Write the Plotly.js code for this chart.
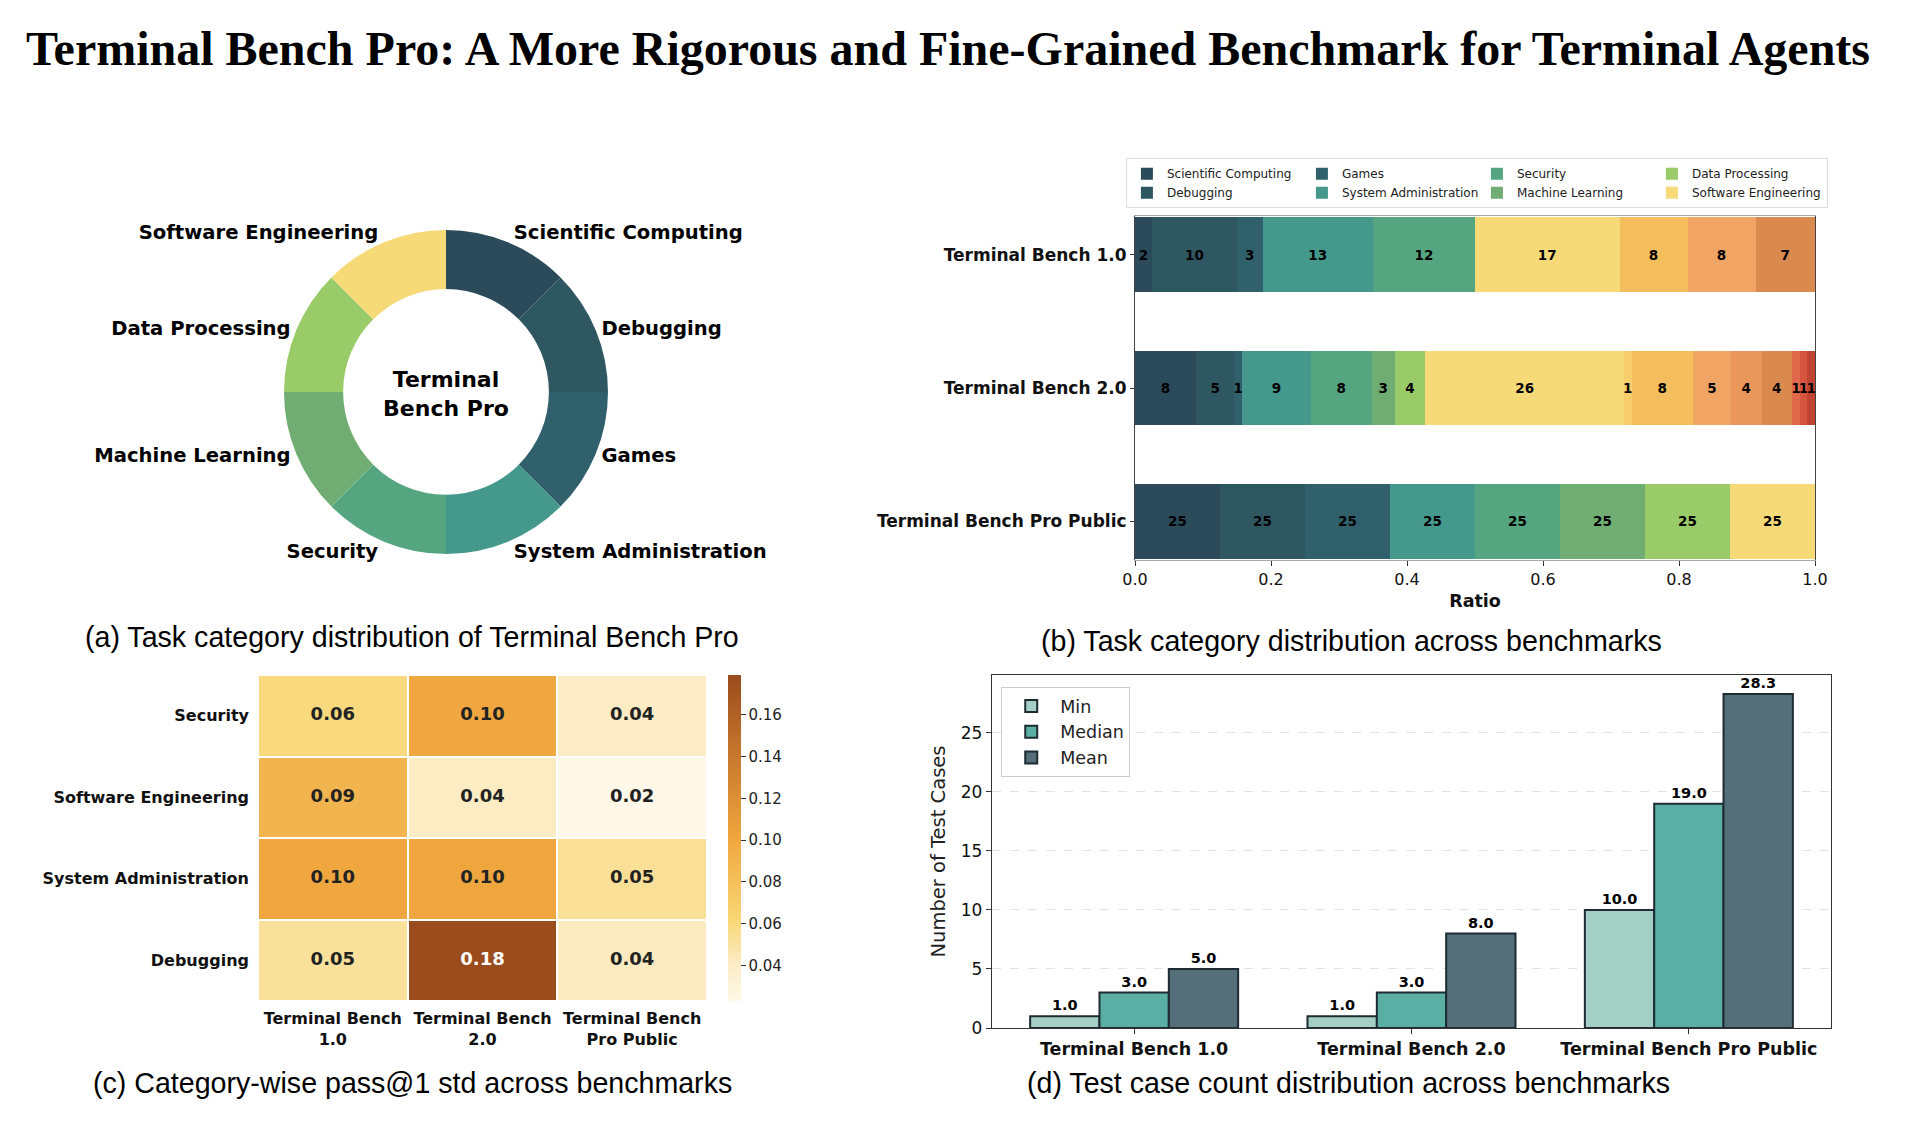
<!DOCTYPE html>
<html><head><meta charset="utf-8">
<script src="https://cdn.plot.ly/plotly-3.0.1.min.js"></script>
<style>
body{margin:0;width:1918px;height:1136px;background:#fff;position:relative;overflow:hidden}
.p{position:absolute}
#title{position:absolute;left:0;top:22px;width:1896px;text-align:center;font-family:"Liberation Serif",serif;font-weight:bold;font-size:48px;line-height:54px;color:#000;white-space:nowrap}
</style></head><body>
<div id="title">Terminal Bench Pro: A More Rigorous and Fine-Grained Benchmark for Terminal Agents</div>
<div id="pa" class="p" style="left:0;top:100px;width:850px;height:560px"></div>
<div id="pb" class="p" style="left:850px;top:150px;width:1065px;height:520px"></div>
<div id="pc" class="p" style="left:0;top:660px;width:900px;height:476px"></div>
<div id="pd" class="p" style="left:880px;top:660px;width:1038px;height:476px"></div>
<script>
// ---------------- data ----------------
const categories = ["Scientific Computing","Debugging","Games","System Administration","Security","Machine Learning","Data Processing","Software Engineering"];
const extraCategories = ["Other A","Other B","Other C","Other D","Other E","Other F","Other G","Other H"];
const benchmarks = ["Terminal Bench 1.0","Terminal Bench 2.0","Terminal Bench Pro Public"];
// task counts per category (8 named + 8 unlabeled extra categories)
const tb1Counts = [2,10,3,13,12,0,0,17, 0,8,8,0,7,0,0,0];
const tb2Counts = [8,5,1,9,8,3,4,26, 1,8,5,4,4,1,1,1];
const proCounts = [25,25,25,25,25,25,25,25, 0,0,0,0,0,0,0,0];
const proDonutValues = [25,25,25,25,25,25,25,25];

const heatCategories = ["Security","Software Engineering","System Administration","Debugging"];
const heatBenchLabels = ["Terminal Bench<br>1.0","Terminal Bench<br>2.0","Terminal Bench<br>Pro Public"];
const heatStd = [
  [0.060, 0.100, 0.040],
  [0.090, 0.041, 0.023],
  [0.100, 0.101, 0.053],
  [0.052, 0.179, 0.042]
];

const testStats = ["Min","Median","Mean"];
const testMin = [1.0, 1.0, 10.0];
const testMedian = [3.0, 3.0, 19.0];
const testMean = [5.0, 8.0, 28.3];

// ---------------- styles ----------------
const catColors = ["#2c4b5a","#2f5762","#30606b","#44998c","#55a680","#6fad72","#99cb68","#f7da78"];
const extraColors = ["#f7ce6b","#f4be5c","#f1a565","#e9975a","#da8a4f","#e0684b","#d6553f","#c14332"];
const statColors = ["#a3cfc5","#5aaea3","#546f7a"];
const SANS = "DejaVu Sans";
const CAP = {family:"Liberation Sans", size:28.6, color:"#000"};
const cfg = {displayModeBar:false, staticPlot:true};

// ---------------- (a) donut ----------------
// div is 850 wide: pie centre at x=446, radius 162
Plotly.newPlot("pa", [{
  type:"pie", labels:categories, values:proDonutValues, hole:0.635, sort:false,
  direction:"clockwise", rotation:0,
  marker:{colors:catColors, line:{width:0}},
  textinfo:"label", textposition:"outside",
  textfont:{family:SANS, size:19.6, color:"#000", weight:"bold"},
  outsidetextfont:{family:SANS, size:19.6, color:"#000", weight:"bold"},
  title:{text:"Terminal<br>Bench Pro", position:"middle center", font:{family:SANS, size:22, color:"#000", weight:"bold"}},
  domain:{x:[0.33412,0.71529], y:[0.1893,0.7679]},
  showlegend:false
}], {
  width:850, height:560, margin:{l:0,r:0,t:0,b:0}, paper_bgcolor:"rgba(0,0,0,0)",
  annotations:[{text:"(a) Task category distribution of Terminal Bench Pro", xref:"paper", yref:"paper", x:0.4847, y:0.041, xanchor:"center", yanchor:"middle", showarrow:false, font:CAP}]
}, cfg);

// ---------------- (b) stacked ratio bars ----------------
const allCats = categories.concat(extraCategories);
const allColors = catColors.concat(extraColors);
const tot = a => a.reduce((s,v)=>s+v,0);
const t1 = tot(tb1Counts), t2 = tot(tb2Counts), t3 = tot(proCounts);
const barTraces = allCats.map((name,i) => {
  const counts = [tb1Counts[i], tb2Counts[i], proCounts[i]];
  return {
    type:"bar", orientation:"h", name:name, y:benchmarks,
    x:[tb1Counts[i]/t1, tb2Counts[i]/t2, proCounts[i]/t3],
    text:counts.map(c => c>0 ? String(c) : ""),
    textposition:"inside", insidetextanchor:"middle", textangle:0, constraintext:"none",
    textfont:{family:SANS, size:13.5, color:"#000", weight:"bold"},
    insidetextfont:{family:SANS, size:13.5, color:"#000", weight:"bold"},
    marker:{color:allColors[i], line:{width:0}},
    width:0.56,
    showlegend: i < categories.length,
    legendrank: i < categories.length ? (i%2)*4 + Math.floor(i/2) + 1 : 100 + i
  };
});
Plotly.newPlot("pb", barTraces, {
  width:1065, height:520, margin:{l:285,r:100,t:66,b:110,autoexpand:false},
  barmode:"stack", paper_bgcolor:"rgba(0,0,0,0)", plot_bgcolor:"#fff",
  font:{family:SANS, color:"#111"},
  xaxis:{range:[0,1], dtick:0.2, tickformat:".1f", ticks:"outside", ticklen:5, tickcolor:"#333",
         showline:true, linecolor:"#aaa", mirror:true, showgrid:false, zeroline:false,
         tickfont:{size:16, color:"#111"},
         title:{text:"Ratio", font:{size:17.5, weight:"bold", color:"#111"}, standoff:6}},
  yaxis:{type:"category", categoryorder:"array", categoryarray:benchmarks, range:[2.29,-0.29],
         ticks:"outside", ticklen:4, tickcolor:"#333", showline:true, linecolor:"#444", mirror:true,
         showgrid:false, tickfont:{size:17, weight:"bold", color:"#111"}},
  legend:{orientation:"h", x:1.019, xanchor:"right", y:1.168, yanchor:"top",
          entrywidth:130, entrywidthmode:"pixels", traceorder:"normal",
          bgcolor:"#fff", bordercolor:"#ddd", borderwidth:1, font:{size:12, color:"#222"}},
  annotations:[{text:"(b) Task category distribution across benchmarks", xref:"paper", yref:"paper", x:0.319, y:-0.2355, xanchor:"center", yanchor:"middle", showarrow:false, font:CAP}]
}, cfg);

// ---------------- (c) heatmap ----------------
const hx = [], hy = [], ht = [], hc = [];
heatCategories.forEach((cat,r) => heatBenchLabels.forEach((b,c) => {
  hx.push(b); hy.push(cat); ht.push(heatStd[r][c].toFixed(2));
  hc.push(heatStd[r][c] > 0.15 ? "#fff" : "#222");
}));
Plotly.newPlot("pc", [{
  type:"heatmap", z:heatStd, x:heatBenchLabels, y:heatCategories, xgap:2, ygap:2,
  colorscale:[[0,"#fff8e8"],[0.12,"#fcebc2"],[0.25,"#f8d775"],[0.5,"#f0a63e"],[0.75,"#c8782d"],[1,"#9a4c1d"]],
  colorbar:{thickness:13, len:1, lenmode:"fraction", y:0.5, yanchor:"middle", x:1.047, xanchor:"left",
            xpad:0, ypad:0,
            outlinewidth:0, ticks:"outside", ticklen:5, tickcolor:"#333", tick0:0.04, dtick:0.02,
            tickformat:".2f", tickfont:{family:SANS, size:15, color:"#222"}},
  hoverinfo:"skip"
},{
  type:"scatter", mode:"text", x:hx, y:hy, text:ht,
  textfont:{family:SANS, size:18, weight:"bold", color:hc}, showlegend:false, hoverinfo:"skip"
}], {
  width:900, height:476, margin:{l:258,r:193,t:15,b:135,autoexpand:false},
  paper_bgcolor:"rgba(0,0,0,0)", plot_bgcolor:"#fff", font:{family:SANS, color:"#111"},
  xaxis:{type:"category", ticks:"", showgrid:false, zeroline:false, showline:false,
         tickfont:{size:16, weight:"bold", color:"#111"}, ticklabelstandoff:6},
  yaxis:{type:"category", autorange:"reversed", ticks:"", showgrid:false, zeroline:false, showline:false,
         tickfont:{size:16, weight:"bold", color:"#111"}, ticklabelstandoff:8},
  annotations:[{text:"(c) Category-wise pass@1 std across benchmarks", xref:"paper", yref:"paper", x:0.345, y:-0.2515, xanchor:"center", yanchor:"middle", showarrow:false, font:CAP}]
}, cfg);

// ---------------- (d) grouped bars ----------------
const seriesVals = [testMin, testMedian, testMean];
const dTraces = testStats.map((s,i) => ({
  type:"bar", name:s, x:benchmarks, y:seriesVals[i],
  marker:{color:statColors[i], line:{color:"#1e2b32", width:2}},
  texttemplate:"%{y:.1f}", textposition:"outside", cliponaxis:false,
  textfont:{family:SANS, size:14.5, weight:"bold", color:"#000"}
}));
Plotly.newPlot("pd", dTraces, {
  width:1038, height:476, margin:{l:112,r:87,t:15,b:108,autoexpand:false},
  barmode:"group", bargap:0.25, bargroupgap:0,
  paper_bgcolor:"rgba(0,0,0,0)", plot_bgcolor:"#fff", font:{family:SANS, color:"#111"},
  xaxis:{type:"category", range:[-0.5125,2.5125], ticks:"outside", ticklen:5, tickcolor:"#333",
         showline:true, linecolor:"#333", linewidth:1.2, mirror:true, showgrid:false,
         tickfont:{size:17.5, weight:"bold", color:"#111"}},
  yaxis:{range:[0,29.9], dtick:5, ticks:"outside", ticklen:5, tickcolor:"#333",
         showline:true, linecolor:"#333", linewidth:1.2, mirror:true, zeroline:false,
         showgrid:true, gridcolor:"#e2e2e2", griddash:"dash",
         tickfont:{size:17, color:"#111"},
         title:{text:"Number of Test Cases", font:{size:19.5, color:"#222"}, standoff:10}},
  legend:{x:0.011, xanchor:"left", y:0.966, yanchor:"top", bgcolor:"#fff", bordercolor:"#ccc", borderwidth:1,
          itemwidth:48, font:{size:17.5, color:"#222"}, traceorder:"normal"},
  annotations:[{text:"(d) Test case count distribution across benchmarks", xref:"paper", yref:"paper", x:0.4255, y:-0.156, xanchor:"center", yanchor:"middle", showarrow:false, font:CAP}]
}, cfg);
</script>
</body></html>
